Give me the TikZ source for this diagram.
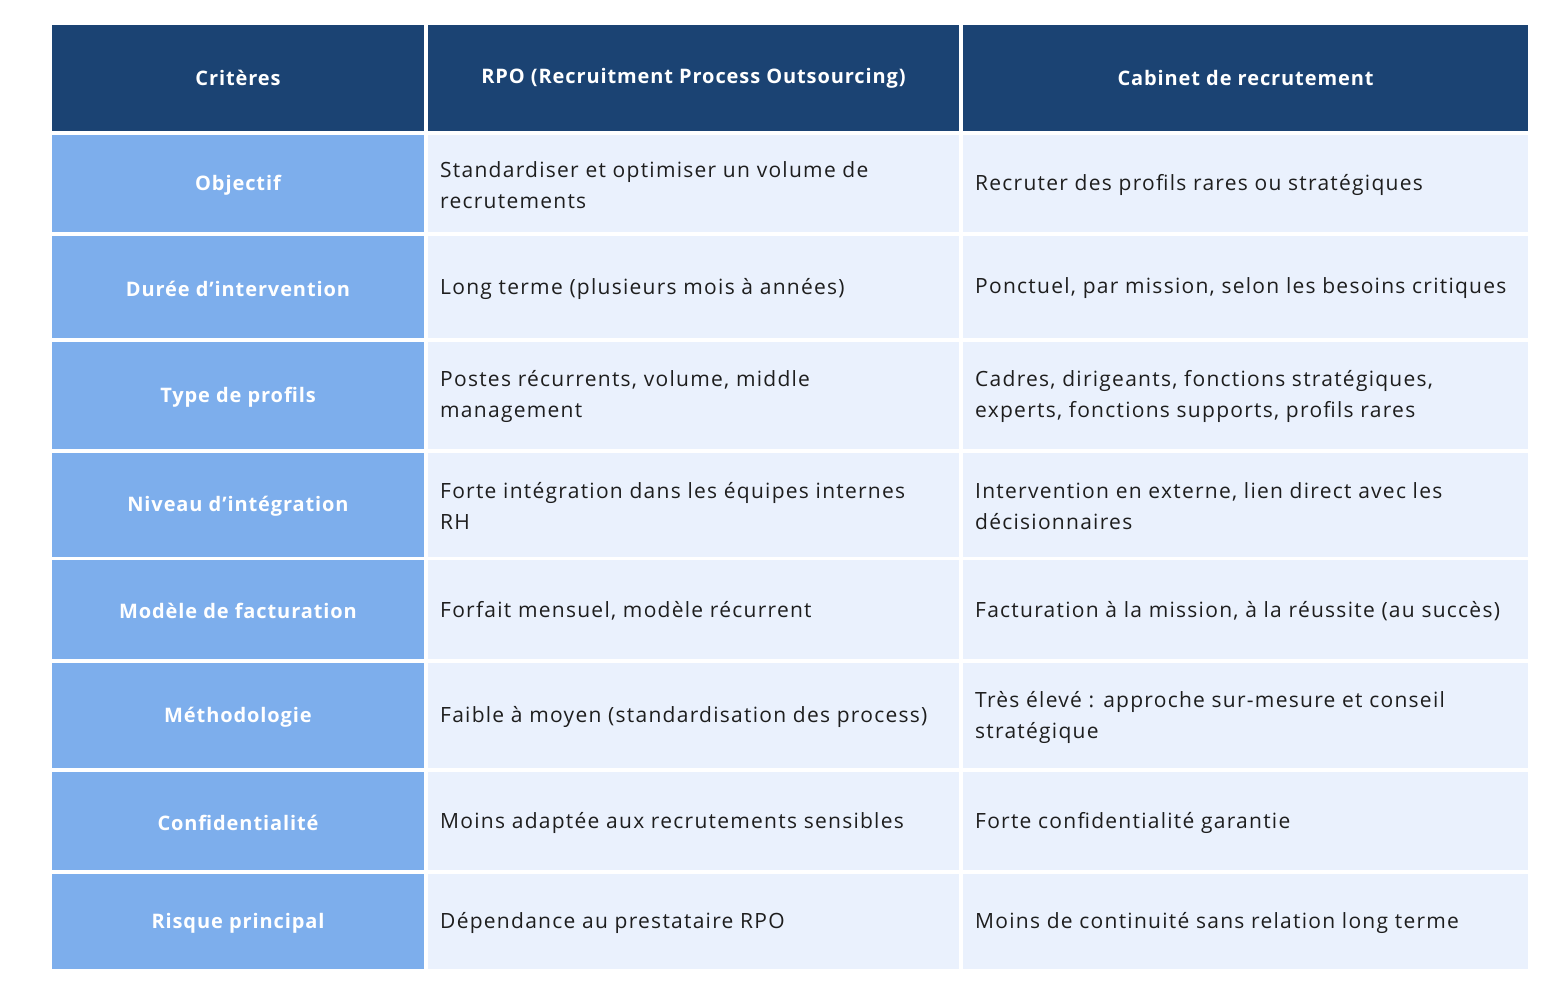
\documentclass[tikz,border=0pt]{standalone}
\usepackage{fontspec}
\setmainfont{Open Sans}
\newfontfamily\bodyfont[LetterSpace=6]{Open Sans}
\newfontfamily\headfont[LetterSpace=4.5]{Open Sans}
\definecolor{navy}{RGB}{27,67,115}
\definecolor{critblue}{RGB}{125,174,236}
\definecolor{cellbg}{RGB}{234,241,253}
\definecolor{txt}{RGB}{30,30,30}
\tikzset{
  cellbox/.style={rectangle, inner sep=0pt, outer sep=0pt, draw=none},
  hdrcell/.style={cellbox, fill=navy, text=white, font=\headfont\bfseries\fontsize{20}{24}\selectfont},
  critcell/.style={cellbox, fill=critblue, text=white, minimum width=372, font=\headfont\bfseries\fontsize{20}{24}\selectfont},
  bodycell/.style={cellbox, fill=cellbg},
  bodytext/.style={anchor=west, inner sep=0pt, align=left, text=txt, font=\bodyfont\fontsize{21}{31}\selectfont},
  crittext/.style={inner sep=0pt, text=white, font=\headfont\bfseries\fontsize{20}{24}\selectfont},
}
\newcommand\trow[6]{%
  \node[critcell, minimum height={#3-#2}] (#1a) at (238,{(#2+#3)/2}) {};
  \node[crittext] (#1at) at ([yshift=-1.5pt]#1a.center) {#4};
  \node[bodycell, minimum width=531, minimum height={#3-#2}] (#1b) at (693.5,{(#2+#3)/2}) {};
  \node[bodytext] (#1bt) at ([xshift=12pt,yshift=-1.5pt]#1b.west) {#5};
  \node[bodycell, minimum width=565, minimum height={#3-#2}] (#1c) at (1245.5,{(#2+#3)/2}) {};
  \node[bodytext] (#1ct) at ([xshift=12pt,yshift=-1.5pt]#1c.west) {#6};
}
\begin{document}
\begin{tikzpicture}[x=1pt,y=-1pt]
\useasboundingbox (0,0) rectangle (1568,992);
\fill[white] (0,0) rectangle (1568,992);
\node[hdrcell, minimum width=372, minimum height=106.5] (h1) at (238,78.25) {Critères};
\node[hdrcell, minimum width=531, minimum height=106.5] (h2) at (693.5,78.25) {RPO (Recruitment Process Outsourcing)};
\node[hdrcell, minimum width=565, minimum height=106.5] (h3) at (1245.5,78.25) {Cabinet de recrutement};
\trow{r1}{135}{232}{Objectif}{Standardiser et optimiser un volume de\\recrutements}{Recruter des profils rares ou stratégiques}
\trow{r2}{236.5}{337.5}{Durée d’intervention}{Long terme (plusieurs mois à années)}{Ponctuel, par mission, selon les besoins critiques}
\trow{r3}{341.5}{449}{Type de profils}{Postes récurrents, volume, middle\\management}{Cadres, dirigeants, fonctions stratégiques,\\experts, fonctions supports, profils rares}
\trow{r4}{453}{556.5}{Niveau d’intégration}{Forte intégration dans les équipes internes\\RH}{Intervention en externe, lien direct avec les\\décisionnaires}
\trow{r5}{560}{659}{Modèle de facturation}{Forfait mensuel, modèle récurrent}{Facturation à la mission, à la réussite (au succès)}
\trow{r6}{663}{768}{Méthodologie}{Faible à moyen (standardisation des process)}{Très élevé : approche sur-mesure et conseil\\stratégique}
\trow{r7}{772}{870}{Confidentialité}{Moins adaptée aux recrutements sensibles}{Forte confidentialité garantie}
\trow{r8}{874}{969}{Risque principal}{Dépendance au prestataire RPO}{Moins de continuité sans relation long terme}
\end{tikzpicture}
\end{document}
